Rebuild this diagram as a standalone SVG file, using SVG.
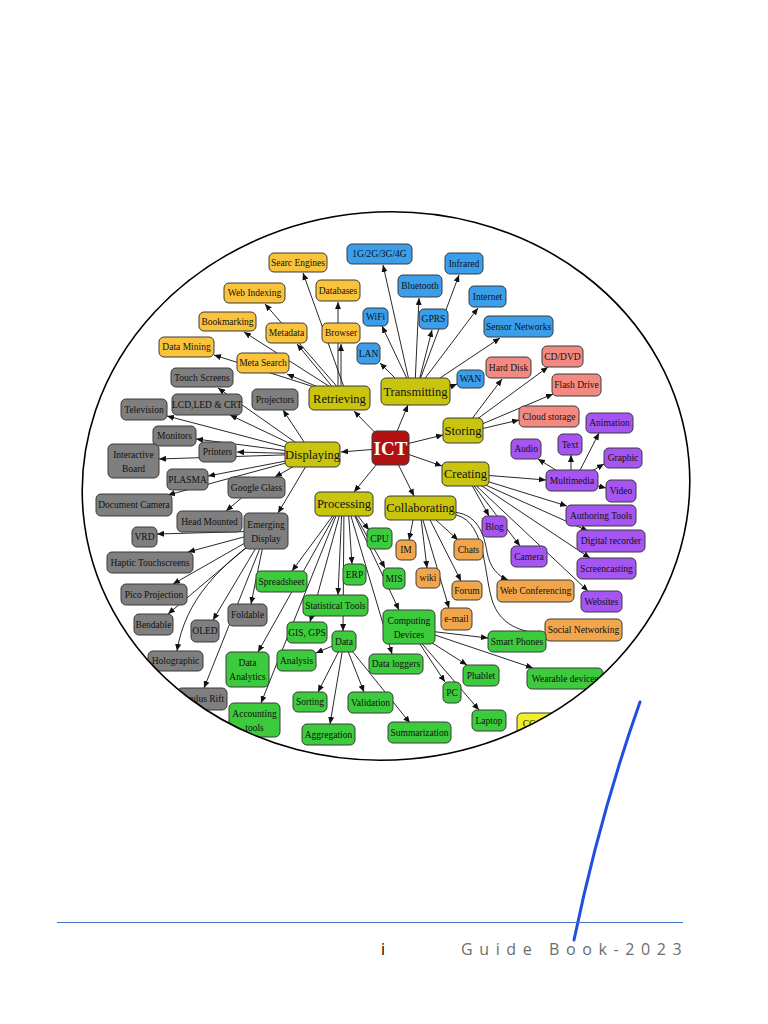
<svg xmlns="http://www.w3.org/2000/svg" width="768" height="1024" viewBox="0 0 768 1024">
<style>
.n rect{stroke:#3a3a3a;stroke-width:1}
.n text{font-family:"Liberation Serif","DejaVu Serif",serif;font-size:9.5px;fill:#111;text-anchor:middle}
.m rect{fill:#C9C50E}
.m text{font-size:12.5px}
.y rect{fill:#FAC33C}
.b rect{fill:#3A9EEA}
.s rect{fill:#F28A82}
.p rect{fill:#A455F2}
.o rect{fill:#F2A64C}
.g rect{fill:#3CCB3C}
.k rect{fill:#7F7F7F}
.cc rect{fill:#F2EE2A}
#ict rect{fill:#B01212}
#ict text{fill:#fff;font-size:19px;font-weight:bold}
#edges path{stroke:#111;stroke-width:0.9;fill:none;marker-end:url(#ah)}
</style>
<defs>
<marker id="ah" markerUnits="userSpaceOnUse" markerWidth="7" markerHeight="6" refX="7" refY="3" orient="auto"><path d="M0,0 L7,3 L0,6 z" fill="#111"/></marker>
<clipPath id="ell"><ellipse cx="386" cy="486" rx="304" ry="274" transform="rotate(-5 386 486)"/></clipPath>
</defs>
<rect width="768" height="1024" fill="#fff"/>
<g clip-path="url(#ell)">
<g id="edges">
<path d="M390,448 L354,411"/><path d="M390,448 L408,405"/><path d="M390,448 L443,435"/><path d="M390,448 L442,466"/><path d="M390,448 L414,496"/><path d="M390,448 L354,492"/><path d="M390,448 L341,452"/>
<path d="M345,390 L303,273"/><path d="M338,390 L338,302"/><path d="M340,390 L265,304"/><path d="M341,390 L341,344"/><path d="M335,390 L244,332"/><path d="M335,390 L297,344"/><path d="M330,392 L214,355"/><path d="M330,392 L287,374"/>
<path d="M410,385 L383,265"/><path d="M418,385 L459,275"/><path d="M415,385 L419,298"/><path d="M420,385 L478,308"/><path d="M410,385 L382,326"/><path d="M418,385 L432,330"/><path d="M425,388 L500,338"/><path d="M405,388 L380,363"/><path d="M440,391 L457,384"/>
<path d="M465,428 L502,379"/><path d="M465,428 L548,367"/><path d="M468,430 L553,394"/><path d="M468,432 L519,420"/>
<path d="M470,474 L546,480"/><path d="M470,476 L567,506"/><path d="M468,478 L489,516"/><path d="M470,478 L588,531"/><path d="M468,478 L520,546"/><path d="M470,478 L590,558"/><path d="M468,478 L588,591"/>
<path d="M572,480 L538,459"/><path d="M571,480 L571,455"/><path d="M575,480 L599,433"/><path d="M580,478 L604,464"/><path d="M590,484 L606,488"/>
<path d="M415,510 L409,540"/><path d="M425,510 L458,540"/><path d="M420,510 L427,568"/><path d="M425,510 L461,581"/><path d="M420,510 L449,608"/>
<path d="M450,512 C478,512 484,535 487,552 C490,568 498,576 508,580"/>
<path d="M450,514 C486,516 483,570 492,600 C500,625 520,632 545,634"/>
<path d="M350,506 L369,530"/><path d="M348,506 L352,564"/><path d="M350,506 L385,568"/><path d="M340,506 L292,571"/><path d="M342,506 L338,595"/><path d="M342,506 L310,622"/><path d="M344,506 L343,631"/><path d="M350,506 L399,610"/><path d="M340,506 L258,652"/><path d="M340,506 L261,703"/><path d="M348,506 L392,654"/>
<path d="M344,641 L316,653"/><path d="M344,641 L318,692"/><path d="M344,641 L330,724"/><path d="M344,641 L364,692"/><path d="M344,641 L410,723"/>
<path d="M420,630 L488,638"/><path d="M420,630 L533,668"/><path d="M415,632 L467,665"/><path d="M412,632 L445,682"/><path d="M412,632 L479,710"/>
<path d="M312,454 L218,388"/><path d="M312,454 L283,410"/><path d="M312,454 L230,415"/><path d="M312,454 L167,416"/><path d="M312,454 L196,439"/><path d="M312,454 L237,452"/><path d="M312,454 L159,459"/><path d="M312,456 L208,476"/><path d="M312,456 L275,477"/><path d="M312,456 L168,495"/><path d="M312,456 L278,513"/>
<path d="M245,495 L226,511"/>
<path d="M266,531 L157,534"/><path d="M266,531 L188,552"/><path d="M266,531 L173,584"/><path d="M266,531 L168,614"/><path d="M266,531 L213,620"/><path d="M266,531 L251,604"/>
<path d="M266,533 C220,565 185,600 177,651"/><path d="M266,533 L204,688"/>
</g>
<g id="ict" class="n"><rect x="372" y="431" width="37" height="34" rx="5"/><text x="390.5" y="455">ICT</text></g>
<g id="retrieving" class="n m"><rect x="309" y="386" width="61" height="24" rx="5"/><text x="339.5" y="402.5">Retrieving</text></g>
<g id="transmitting" class="n m"><rect x="381" y="378" width="69" height="27" rx="5"/><text x="415.5" y="396">Transmitting</text></g>
<g id="storing" class="n m"><rect x="443" y="418" width="40" height="25" rx="5"/><text x="463" y="435">Storing</text></g>
<g id="creating" class="n m"><rect x="442" y="462" width="47" height="24" rx="5"/><text x="465.5" y="478">Creating</text></g>
<g id="collaborating" class="n m"><rect x="385" y="496" width="71" height="24" rx="5"/><text x="420.5" y="512">Collaborating</text></g>
<g id="processing" class="n m"><rect x="315" y="492" width="58" height="24" rx="5"/><text x="344" y="508">Processing</text></g>
<g id="displaying" class="n m"><rect x="285" y="442" width="55" height="25" rx="5"/><text x="312.5" y="459">Displaying</text></g>

<g id="searc-engines" class="n y"><rect x="269" y="253" width="58" height="19" rx="5"/><text x="298" y="266">Searc Engines</text></g>
<g id="web-indexing" class="n y"><rect x="224" y="283" width="61" height="20" rx="5"/><text x="254.5" y="296">Web Indexing</text></g>
<g id="databases" class="n y"><rect x="316" y="280" width="44" height="21" rx="5"/><text x="338" y="294">Databases</text></g>
<g id="bookmarking" class="n y"><rect x="199" y="312" width="57" height="19" rx="5"/><text x="227.5" y="325">Bookmarking</text></g>
<g id="metadata" class="n y"><rect x="266" y="323" width="41" height="20" rx="5"/><text x="286.5" y="336">Metadata</text></g>
<g id="browser" class="n y"><rect x="322" y="323" width="38" height="20" rx="5"/><text x="341" y="336">Browser</text></g>
<g id="data-mining" class="n y"><rect x="159" y="337" width="55" height="20" rx="5"/><text x="186.5" y="350">Data Mining</text></g>
<g id="meta-search" class="n y"><rect x="237" y="353" width="52" height="20" rx="5"/><text x="263" y="366">Meta Search</text></g>

<g id="g1234" class="n b"><rect x="347" y="244" width="65" height="20" rx="5"/><text x="379.5" y="257">1G/2G/3G/4G</text></g>
<g id="infrared" class="n b"><rect x="445" y="253" width="38" height="21" rx="5"/><text x="464" y="266.5">Infrared</text></g>
<g id="bluetooth" class="n b"><rect x="398" y="275" width="44" height="22" rx="5"/><text x="420" y="289">Bluetooth</text></g>
<g id="internet" class="n b"><rect x="469" y="286" width="37" height="21" rx="5"/><text x="487.5" y="299.5">Internet</text></g>
<g id="wifi" class="n b"><rect x="363" y="308" width="25" height="18" rx="5"/><text x="375.5" y="320">WiFi</text></g>
<g id="gprs" class="n b"><rect x="419" y="309" width="29" height="20" rx="5"/><text x="433.5" y="322">GPRS</text></g>
<g id="sensor-networks" class="n b"><rect x="484" y="316" width="69" height="21" rx="5"/><text x="518.5" y="329.5">Sensor Networks</text></g>
<g id="lan" class="n b"><rect x="357" y="343" width="23" height="21" rx="5"/><text x="368.5" y="356.5">LAN</text></g>
<g id="wan" class="n b"><rect x="457" y="370" width="27" height="18" rx="5"/><text x="470.5" y="382">WAN</text></g>

<g id="hard-disk" class="n s"><rect x="486" y="357" width="45" height="21" rx="5"/><text x="508.5" y="370.5">Hard Disk</text></g>
<g id="cd-dvd" class="n s"><rect x="542" y="346" width="41" height="21" rx="5"/><text x="562.5" y="359.5">CD/DVD</text></g>
<g id="flash-drive" class="n s"><rect x="552" y="374" width="49" height="22" rx="5"/><text x="576.5" y="388">Flash Drive</text></g>
<g id="cloud-storage" class="n s"><rect x="519" y="406" width="60" height="21" rx="5"/><text x="549" y="419.5">Cloud storage</text></g>

<g id="animation" class="n p"><rect x="586" y="413" width="47" height="20" rx="5"/><text x="609.5" y="426">Animation</text></g>
<g id="audio" class="n p"><rect x="511" y="439" width="30" height="20" rx="5"/><text x="526" y="452">Audio</text></g>
<g id="text" class="n p"><rect x="558" y="434" width="24" height="21" rx="5"/><text x="570" y="447.5">Text</text></g>
<g id="graphic" class="n p"><rect x="604" y="448" width="38" height="20" rx="5"/><text x="623" y="461">Graphic</text></g>
<g id="multimedia" class="n p"><rect x="546" y="470" width="52" height="21" rx="5"/><text x="572" y="483.5">Multimedia</text></g>
<g id="video" class="n p"><rect x="606" y="480" width="30" height="22" rx="5"/><text x="621" y="494">Video</text></g>
<g id="authoring-tools" class="n p"><rect x="566" y="505" width="70" height="21" rx="5"/><text x="601" y="518.5">Authoring Tools</text></g>
<g id="blog" class="n p"><rect x="482" y="516" width="25" height="21" rx="5"/><text x="494.5" y="529.5">Blog</text></g>
<g id="digital-recorder" class="n p"><rect x="577" y="530" width="68" height="22" rx="5"/><text x="611" y="544">Digital recorder</text></g>
<g id="camera" class="n p"><rect x="511" y="546" width="36" height="21" rx="5"/><text x="529" y="559.5">Camera</text></g>
<g id="screencasting" class="n p"><rect x="577" y="558" width="59" height="21" rx="5"/><text x="606.5" y="571.5">Screencasting</text></g>
<g id="websites" class="n p"><rect x="581" y="591" width="41" height="21" rx="5"/><text x="601.5" y="604.5">Websites</text></g>

<g id="im" class="n o"><rect x="396" y="540" width="20" height="20" rx="5"/><text x="406" y="553">IM</text></g>
<g id="chats" class="n o"><rect x="454" y="539" width="29" height="21" rx="5"/><text x="468.5" y="552.5">Chats</text></g>
<g id="wiki" class="n o"><rect x="416" y="568" width="24" height="20" rx="5"/><text x="428" y="581">wiki</text></g>
<g id="forum" class="n o"><rect x="452" y="581" width="30" height="19" rx="5"/><text x="467" y="593.5">Forum</text></g>
<g id="e-mail" class="n o"><rect x="441" y="608" width="31" height="22" rx="5"/><text x="456.5" y="622">e-mail</text></g>
<g id="web-conferencing" class="n o"><rect x="497" y="580" width="77" height="22" rx="5"/><text x="535.5" y="594">Web Conferencing</text></g>
<g id="social-networking" class="n o"><rect x="545" y="619" width="77" height="22" rx="5"/><text x="583.5" y="633">Social Networking</text></g>

<g id="cpu" class="n g"><rect x="367" y="528" width="25" height="21" rx="5"/><text x="379.5" y="541.5">CPU</text></g>
<g id="erp" class="n g"><rect x="343" y="564" width="23" height="21" rx="5"/><text x="354.5" y="577.5">ERP</text></g>
<g id="mis" class="n g"><rect x="383" y="568" width="22" height="21" rx="5"/><text x="394" y="581.5">MIS</text></g>
<g id="spreadsheet" class="n g"><rect x="256" y="571" width="51" height="21" rx="5"/><text x="281.5" y="584.5">Spreadsheet</text></g>
<g id="statistical-tools" class="n g"><rect x="303" y="595" width="65" height="21" rx="5"/><text x="335.5" y="608.5">Statistical Tools</text></g>
<g id="gis-gps" class="n g"><rect x="287" y="622" width="40" height="21" rx="5"/><text x="307" y="635.5">GIS, GPS</text></g>
<g id="data" class="n g"><rect x="332" y="631" width="24" height="21" rx="5"/><text x="344" y="644.5">Data</text></g>
<g id="computing-devices" class="n g"><rect x="383" y="610" width="52" height="34" rx="5"/><text x="409" y="624">Computing</text><text x="409" y="638">Devices</text></g>
<g id="data-analytics" class="n g"><rect x="226" y="652" width="43" height="35" rx="5"/><text x="247.5" y="666">Data</text><text x="247.5" y="680">Analytics</text></g>
<g id="analysis" class="n g"><rect x="277" y="650" width="39" height="21" rx="5"/><text x="296.5" y="663.5">Analysis</text></g>
<g id="data-loggers" class="n g"><rect x="369" y="654" width="54" height="20" rx="5"/><text x="396" y="667">Data loggers</text></g>
<g id="sorting" class="n g"><rect x="293" y="692" width="34" height="20" rx="5"/><text x="310" y="705">Sorting</text></g>
<g id="validation" class="n g"><rect x="348" y="692" width="45" height="21" rx="5"/><text x="370.5" y="705.5">Validation</text></g>
<g id="accounting-tools" class="n g"><rect x="229" y="703" width="51" height="34" rx="5"/><text x="254.5" y="717">Accounting</text><text x="254.5" y="731">tools</text></g>
<g id="aggregation" class="n g"><rect x="302" y="724" width="53" height="21" rx="5"/><text x="328.5" y="737.5">Aggregation</text></g>
<g id="summarization" class="n g"><rect x="388" y="722" width="63" height="21" rx="5"/><text x="419.5" y="735.5">Summarization</text></g>
<g id="smart-phones" class="n g"><rect x="488" y="631" width="58" height="21" rx="5"/><text x="517" y="644.5">Smart Phones</text></g>
<g id="phablet" class="n g"><rect x="463" y="665" width="36" height="21" rx="5"/><text x="481" y="678.5">Phablet</text></g>
<g id="wearable-devices" class="n g"><rect x="527" y="668" width="76" height="21" rx="5"/><text x="565" y="681.5">Wearable devices</text></g>
<g id="pc" class="n g"><rect x="443" y="682" width="18" height="21" rx="5"/><text x="452" y="695.5">PC</text></g>
<g id="laptop" class="n g"><rect x="472" y="710" width="34" height="21" rx="5"/><text x="489" y="723.5">Laptop</text></g>
<g id="cc" class="n cc"><rect x="517" y="713" width="40" height="22" rx="5"/><text x="529" y="727">CC</text></g>

<g id="touch-screens" class="n k"><rect x="171" y="368" width="62" height="19" rx="5"/><text x="202" y="381">Touch Screens</text></g>
<g id="projectors" class="n k"><rect x="252" y="389" width="46" height="21" rx="5"/><text x="275" y="402.5">Projectors</text></g>
<g id="lcd" class="n k"><rect x="172" y="394" width="70" height="21" rx="5"/><text x="207" y="407.5">LCD,LED &amp; CRT</text></g>
<g id="television" class="n k"><rect x="121" y="399" width="46" height="21" rx="5"/><text x="144" y="412.5">Television</text></g>
<g id="monitors" class="n k"><rect x="153" y="426" width="43" height="20" rx="5"/><text x="174.5" y="439">Monitors</text></g>
<g id="printers" class="n k"><rect x="199" y="442" width="37" height="20" rx="5"/><text x="217.5" y="455">Printers</text></g>
<g id="interactive-board" class="n k"><rect x="108" y="444" width="51" height="34" rx="5"/><text x="133.5" y="458">Interactive</text><text x="133.5" y="472">Board</text></g>
<g id="plasma" class="n k"><rect x="167" y="469" width="41" height="21" rx="5"/><text x="187.5" y="482.5">PLASMA</text></g>
<g id="google-glass" class="n k"><rect x="228" y="477" width="57" height="21" rx="5"/><text x="256.5" y="490.5">Google Glass</text></g>
<g id="document-camera" class="n k"><rect x="96" y="494" width="76" height="22" rx="5"/><text x="134" y="508">Document Camera</text></g>
<g id="head-mounted" class="n k"><rect x="177" y="511" width="65" height="21" rx="5"/><text x="209.5" y="524.5">Head Mounted</text></g>
<g id="emerging-display" class="n k"><rect x="244" y="513" width="44" height="36" rx="5"/><text x="266" y="528">Emerging</text><text x="266" y="542">Display</text></g>
<g id="vrd" class="n k"><rect x="132" y="527" width="25" height="20" rx="5"/><text x="144.5" y="540">VRD</text></g>
<g id="haptic" class="n k"><rect x="107" y="552" width="86" height="21" rx="5"/><text x="150" y="565.5">Haptic Touchscreens</text></g>
<g id="pico" class="n k"><rect x="121" y="584" width="66" height="21" rx="5"/><text x="154" y="597.5">Pico Projection</text></g>
<g id="foldable" class="n k"><rect x="228" y="604" width="39" height="22" rx="5"/><text x="247.5" y="618">Foldable</text></g>
<g id="bendable" class="n k"><rect x="134" y="614" width="39" height="21" rx="5"/><text x="153.5" y="627.5">Bendable</text></g>
<g id="oled" class="n k"><rect x="191" y="620" width="28" height="22" rx="5"/><text x="205" y="634">OLED</text></g>
<g id="holographic" class="n k"><rect x="148" y="651" width="55" height="20" rx="5"/><text x="175.5" y="664">Holographic</text></g>
<g id="oculus-rift" class="n k"><rect x="177" y="688" width="50" height="22" rx="5"/><text x="202" y="702">Oculus Rift</text></g>
</g>
<ellipse cx="386" cy="486" rx="304" ry="274" transform="rotate(-5 386 486)" fill="none" stroke="#000" stroke-width="1.6"/>
<path d="M640,702 Q600,815 574,940" fill="none" stroke="#1F4FE0" stroke-width="3" stroke-linecap="round"/>
<line x1="57" y1="922.5" x2="683" y2="922.5" stroke="#4472C4" stroke-width="1"/>
<text x="381" y="955" font-family="'Open Sans','Liberation Sans',sans-serif" font-size="16" fill="#000">i</text>
<text x="461" y="955" font-family="'Open Sans','Liberation Sans',sans-serif" font-size="16" fill="#6d6d6d" letter-spacing="6.6">Guide Book-2023</text>
</svg>
